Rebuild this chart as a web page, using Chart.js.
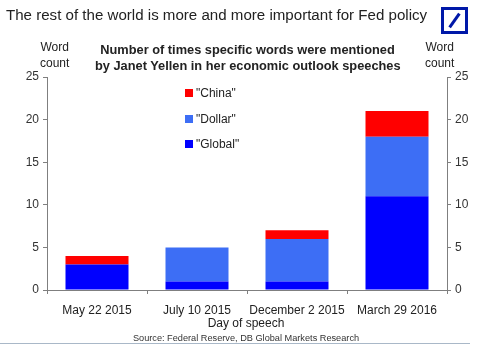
<!DOCTYPE html>
<html>
<head>
<meta charset="utf-8">
<script src="https://cdn.jsdelivr.net/npm/chart.js@4/dist/chart.umd.min.js"></script>
<style>
  body { margin: 0; background: #fff; font-family: "Liberation Sans", Arial, sans-serif; }
  #wrap { position: relative; width: 488px; height: 345px; overflow: hidden; }
  #c { position: absolute; left: 0; top: 0; }
  .t { position: absolute; white-space: nowrap; color: #222; }
  .logo { position: absolute; left: 441px; top: 7px; width: 21px; height: 21px; border: 3px solid #0018a8; }
  .logo i { position: absolute; left: 9px; top: 2px; width: 3px; height: 17px; background: #0018a8; transform: rotate(35deg); }
  .leg { position: absolute; font-size: 12px; color: #222; }
  .leg b { display: inline-block; width: 8px; height: 8px; margin-right: 3px; vertical-align: 0px; }
</style>
</head>
<body>
<div id="wrap">
  <canvas id="c" width="488" height="345"></canvas>
  <div class="t" style="left:6px;top:6px;font-size:15.1px;">The rest of the world is more and more important for Fed policy</div>
  <div class="logo"><i></i></div>
  <div class="t" style="left:40px;top:39px;font-size:12px;text-align:center;line-height:16px;">Word<br>count</div>
  <div class="t" style="left:425px;top:39px;font-size:12px;text-align:center;line-height:16px;">Word<br>count</div>
  <div class="t" style="left:95px;top:42px;width:305px;font-size:12.8px;font-weight:bold;text-align:center;line-height:16px;">Number of times specific words were mentioned<br>by Janet Yellen in her economic outlook speeches</div>
  <div id="legend"></div>
  <div class="t" style="left:0;top:316px;width:492px;font-size:12px;text-align:center;">Day of speech</div>
  <div class="t" style="left:0;top:333px;width:492px;font-size:9.2px;text-align:center;color:#333;">Source: Federal Reserve, DB Global Markets Research</div>
  <div style="position:absolute;left:0;top:343px;width:470px;height:1px;background:#a9b8c8;"></div>
</div>
<script>
const speeches = ["May 22 2015", "July 10 2015", "December 2 2015", "March 29 2016"];
const globalCount = [3, 1, 1, 11];
const dollarCount = [0, 4, 5, 7];
const chinaCount = [1, 0, 1, 3];
const countTicks = [0, 5, 10, 15, 20, 25];

const series = [
  { label: '"Global"', data: globalCount, color: "#0000ff" },
  { label: '"Dollar"', data: dollarCount, color: "#3d6ef5" },
  { label: '"China"', data: chinaCount, color: "#ff0000" }
];

// legend sits inside the plot, China on top
const legend = document.getElementById("legend");
series.slice().reverse().forEach((s, i) => {
  legend.innerHTML += `<div class="leg" style="left:185px;top:${86 + i * 25.5}px;"><b style="background:${s.color}"></b>${s.label}</div>`;
});

const axisColor = "#7f7f7f";
const tickFont = { family: "Liberation Sans", size: 12 };

new Chart(document.getElementById("c"), {
  type: "bar",
  data: {
    labels: speeches,
    datasets: series.map(s => ({
      label: s.label,
      data: s.data,
      backgroundColor: s.color,
      borderWidth: 0,
      barPercentage: 0.63,
      categoryPercentage: 1,
      yAxisID: "y"
    }))
  },
  options: {
    responsive: false,
    animation: false,
    layout: { padding: { top: 77, left: 0, right: 0, bottom: 0 } },
    plugins: { legend: { display: false }, tooltip: { enabled: false } },
    scales: {
      x: {
        stacked: true,
        offset: true,
        afterFit: s => { s.height = 55; },
        border: { color: axisColor, width: 1 },
        grid: { offset: true, drawOnChartArea: false, color: axisColor, tickLength: 4 },
        ticks: { color: "#222", font: tickFont, padding: 9, maxRotation: 0 }
      },
      y: {
        stacked: true,
        position: "left",
        min: 0, max: 25,
        afterFit: s => { s.width = 47; },
        afterBuildTicks: s => { s.ticks = countTicks.map(v => ({ value: v })); },
        border: { color: axisColor, width: 1 },
        grid: { drawOnChartArea: false, color: axisColor, tickLength: 4 },
        ticks: { color: "#333", font: tickFont, padding: 4 }
      },
      y2: {
        position: "right",
        min: 0, max: 25,
        afterFit: s => { s.width = 41; },
        afterBuildTicks: s => { s.ticks = countTicks.map(v => ({ value: v })); },
        border: { color: axisColor, width: 1 },
        grid: { drawOnChartArea: false, color: axisColor, tickLength: 4 },
        ticks: { color: "#333", font: tickFont, padding: 4 }
      }
    }
  }
});
</script>
</body>
</html>
